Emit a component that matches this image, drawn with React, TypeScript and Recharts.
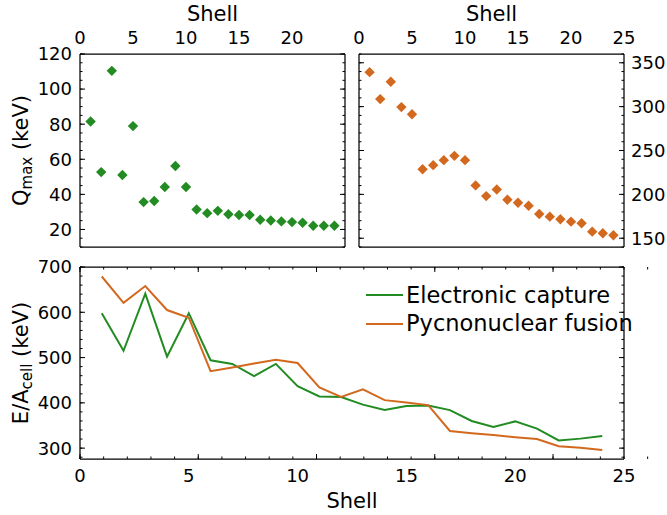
import React from 'react';
import { ScatterChart, Scatter, LineChart, Line, XAxis, YAxis, Legend } from 'recharts';

const FONT = 'DejaVu Sans';
const GREEN = '#228B22';
const ORANGE = '#D2691E';

// ---- data ----
const shells = [1, 2, 3, 4, 5, 6, 7, 8, 9, 10, 11, 12, 13, 14, 15, 16, 17, 18, 19, 20, 21, 22, 23, 24];
const qmaxCapture = [81.5, 52.7, 110.4, 51.0, 78.9, 35.6, 36.2, 44.2, 56.2, 44.2, 31.4, 29.3, 30.6, 28.7, 28.2, 28.2, 25.5, 25.1, 24.6, 24.2, 23.8, 22.1, 22.1, 22.1];
const qmaxFusion = [339.3, 308.6, 328.4, 299.5, 291.3, 228.7, 233.3, 239.0, 243.9, 239.0, 210.2, 198.0, 205.6, 193.9, 190.5, 187.0, 177.6, 174.6, 171.6, 168.9, 167.0, 157.5, 155.7, 153.4];
const energyCapture = [598, 515, 641, 502, 598, 494, 486, 459, 486, 437, 414, 413, 396, 384, 393, 394, 384, 360, 347, 359, 343, 317, 321, 327];
const energyFusion = [679, 621, 658, 605, 588, 470, 478, 487, 495, 488, 434, 413, 430, 406, 401, 395, 338, 333, 329, 324, 320, 304, 301, 296];
const seriesNames = ['Electronic capture', 'Pycnonuclear fusion'];

// ---- ticks ----
const xTicksTopLeft = [0, 5, 10, 15, 20];
const xTicksMajor = [0, 5, 10, 15, 20, 25];
const xTicksMinor = [0, 1, 2, 3, 4, 5, 6, 7, 8, 9, 10, 11, 12, 13, 14, 15, 16, 17, 18, 19, 20, 21, 22, 23, 24, 25];
const qTicksMajor = [20, 40, 60, 80, 100, 120];
const qTicksMinor = [10, 15, 20, 25, 30, 35, 40, 45, 50, 55, 60, 65, 70, 75, 80, 85, 90, 95, 100, 105, 110, 115, 120];
const pTicksMajor = [150, 200, 250, 300, 350];
const pTicksMinor = [140, 150, 160, 170, 180, 190, 200, 210, 220, 230, 240, 250, 260, 270, 280, 290, 300, 310, 320, 330, 340, 350, 360];
const eTicksMajor = [300, 400, 500, 600, 700];
const eTicksMinor = [280, 300, 320, 340, 360, 380, 400, 420, 440, 460, 480, 500, 520, 540, 560, 580, 600, 620, 640, 660, 680, 700];

const X_DOMAIN = [0, 25];
const Q_DOMAIN = [10, 120];
const P_DOMAIN = [140, 360];
const E_DOMAIN = [276, 700];

const dataCapture = shells.map((s, i) => ({ shell: s, q: qmaxCapture[i] }));
const dataFusion = shells.map((s, i) => ({ shell: s, q: qmaxFusion[i] }));
const dataEnergy = shells.map((s, i) => ({ shell: s, ec: energyCapture[i], pf: energyFusion[i] }));

const axisLineStyle = { stroke: '#000', strokeWidth: 1.25 };
const tickLineStyle = { stroke: '#000', strokeWidth: 1 };
const tickText = { fill: '#000', fontSize: 18, fontFamily: FONT };
const THIN = 0.001;
const noLabel = () => <g />;

function frameAxes(p: string, xMajor: number[], xMinor: number[], xDomain: number[], yMajor: number[], yMinor: number[], yDomain: number[]) {
  const base: any = { type: 'number', mirror: true, tick: noLabel, allowDataOverflow: true, interval: 0, tickLine: tickLineStyle, stroke: '#000' };
  return [
    <XAxis key={p + 'xb'} xAxisId={p + 'xb'} orientation="bottom" height={THIN} domain={xDomain} ticks={xMajor} tickSize={5} axisLine={axisLineStyle} {...base} />,
    <XAxis key={p + 'xbm'} xAxisId={p + 'xbm'} orientation="bottom" height={THIN} domain={xDomain} ticks={xMinor} tickSize={2.5} axisLine={false} {...base} />,
    <XAxis key={p + 'xt'} xAxisId={p + 'xt'} orientation="top" height={THIN} domain={xDomain} ticks={xMajor} tickSize={5} axisLine={axisLineStyle} {...base} />,
    <XAxis key={p + 'xtm'} xAxisId={p + 'xtm'} orientation="top" height={THIN} domain={xDomain} ticks={xMinor} tickSize={2.5} axisLine={false} {...base} />,
    <YAxis key={p + 'yl'} yAxisId={p + 'yl'} orientation="left" width={THIN} domain={yDomain} ticks={yMajor} tickSize={5} axisLine={axisLineStyle} {...base} />,
    <YAxis key={p + 'ylm'} yAxisId={p + 'ylm'} orientation="left" width={THIN} domain={yDomain} ticks={yMinor} tickSize={2.5} axisLine={false} {...base} />,
    <YAxis key={p + 'yr'} yAxisId={p + 'yr'} orientation="right" width={THIN} domain={yDomain} ticks={yMajor} tickSize={5} axisLine={axisLineStyle} {...base} />,
    <YAxis key={p + 'yrm'} yAxisId={p + 'yrm'} orientation="right" width={THIN} domain={yDomain} ticks={yMinor} tickSize={2.5} axisLine={false} {...base} />,
  ];
}

const diamond = (color: string) => (props: any) => {
  const { cx, cy } = props;
  const r = 5.2;
  return <polygon points={`${cx},${cy - r} ${cx + r},${cy} ${cx},${cy + r} ${cx - r},${cy}`} fill={color} />;
};

const shellTitleTop = (props: any) => {
  const vb = props.viewBox || { x: 0, y: 0, width: 0, height: 0 };
  return (
    <text x={vb.x + vb.width / 2} y={vb.y + vb.height - 33.3} textAnchor="middle" fontFamily={FONT} fontSize={21} fill="#000">
      Shell
    </text>
  );
};

const shellTitleBottom = (props: any) => {
  const vb = props.viewBox || { x: 0, y: 0, width: 0, height: 0 };
  return (
    <text x={vb.x + vb.width / 2} y={vb.y + 49} textAnchor="middle" fontFamily={FONT} fontSize={21} fill="#000">
      Shell
    </text>
  );
};

const yTitle = (main: string, sub: string) => (props: any) => {
  const vb = props.viewBox || { x: 0, y: 0, width: 0, height: 0 };
  const bx = vb.x + vb.width - 52.5;
  const cy = vb.y + vb.height / 2;
  return (
    <text x={bx} y={cy} transform={`rotate(-90 ${bx} ${cy})`} textAnchor="middle" fontFamily={FONT} fontSize={21} fill="#000">
      {main}
      <tspan dy={4} fontSize={15}>{sub}</tspan>
      <tspan dy={-4}> (keV)</tspan>
    </text>
  );
};

const renderLegend = (props: any) => (
  <div style={{ fontFamily: FONT, fontSize: 22.5, color: '#000' }}>
    {(props.payload || []).map((e: any) => (
      <div key={e.value} style={{ display: 'flex', alignItems: 'center', height: 28.4, lineHeight: '28.4px', whiteSpace: 'nowrap' }}>
        <svg width={37} height={4} style={{ marginRight: 3 }}>
          <line x1={0} y1={2} x2={37} y2={2} stroke={e.color} strokeWidth={2} />
        </svg>
        <span>{e.value}</span>
      </div>
    ))}
  </div>
);

export default function App() {
  return (
    <div style={{ position: 'absolute', left: 0, top: 0, width: 667, height: 515, background: '#fff', overflow: 'hidden' }}>
      <div style={{ position: 'absolute', left: 0, top: 0 }}>
        <ScatterChart width={360} height={255} margin={{ top: 20, right: 15, bottom: 8, left: 0 }}>
          {frameAxes('a', xTicksMajor, xTicksMinor, X_DOMAIN, qTicksMajor, qTicksMinor, Q_DOMAIN)}
          <XAxis xAxisId="aX" orientation="top" type="number" dataKey="shell" domain={X_DOMAIN} allowDataOverflow ticks={xTicksTopLeft} interval={0}
            height={34} tickSize={0} tickMargin={10.5} axisLine={false} tickLine={false} tick={tickText} label={shellTitleTop} />
          <YAxis yAxisId="aY" orientation="left" type="number" dataKey="q" domain={Q_DOMAIN} allowDataOverflow ticks={qTicksMajor} interval={0}
            width={80} tickSize={0} tickMargin={8} axisLine={false} tickLine={false} tick={tickText} label={yTitle('Q', 'max')} />
          <Scatter xAxisId="aX" yAxisId="aY" data={dataCapture} fill={GREEN} shape={diamond(GREEN)} isAnimationActive={false} />
        </ScatterChart>
      </div>
      <div style={{ position: 'absolute', left: 340, top: 0 }}>
        <ScatterChart width={327} height={255} margin={{ top: 20, right: 0, bottom: 8, left: 19 }}>
          {frameAxes('b', xTicksMajor, xTicksMinor, X_DOMAIN, pTicksMajor, pTicksMinor, P_DOMAIN)}
          <XAxis xAxisId="bX" orientation="top" type="number" dataKey="shell" domain={X_DOMAIN} allowDataOverflow ticks={xTicksMajor} interval={0}
            height={34} tickSize={0} tickMargin={10.5} axisLine={false} tickLine={false} tick={tickText} label={shellTitleTop} />
          <YAxis yAxisId="bY" orientation="right" type="number" dataKey="q" domain={P_DOMAIN} allowDataOverflow ticks={pTicksMajor} interval={0}
            width={43} tickSize={0} tickMargin={7} axisLine={false} tickLine={false} tick={tickText} />
          <Scatter xAxisId="bX" yAxisId="bY" data={dataFusion} fill={ORANGE} shape={diamond(ORANGE)} isAnimationActive={false} />
        </ScatterChart>
      </div>
      <div style={{ position: 'absolute', left: 0, top: 255 }}>
        <LineChart width={667} height={260} data={dataEnergy} margin={{ top: 12, right: 43, bottom: 0, left: 0 }}>
          {frameAxes('c', xTicksMajor, xTicksMinor, X_DOMAIN, eTicksMajor, eTicksMinor, E_DOMAIN)}
          <XAxis xAxisId="cX" orientation="bottom" type="number" dataKey="shell" domain={X_DOMAIN} allowDataOverflow ticks={xTicksMajor} interval={0}
            height={56} tickSize={0} tickMargin={10} axisLine={false} tickLine={false} tick={tickText} label={shellTitleBottom} />
          <YAxis yAxisId="cY" orientation="left" type="number" domain={E_DOMAIN} allowDataOverflow ticks={eTicksMajor} interval={0}
            width={80} tickSize={0} tickMargin={8} axisLine={false} tickLine={false} tick={tickText} label={yTitle('E/A', 'cell')} />
          <Line xAxisId="cX" yAxisId="cY" type="linear" dataKey="ec" name={seriesNames[0]} stroke={GREEN} strokeWidth={2} dot={false} isAnimationActive={false} />
          <Line xAxisId="cX" yAxisId="cY" type="linear" dataKey="pf" name={seriesNames[1]} stroke={ORANGE} strokeWidth={2} dot={false} isAnimationActive={false} />
          <Legend layout="vertical" align="center" verticalAlign="middle" content={renderLegend} wrapperStyle={{ left: 366, top: 26, width: 290 }} />
        </LineChart>
      </div>
    </div>
  );
}
